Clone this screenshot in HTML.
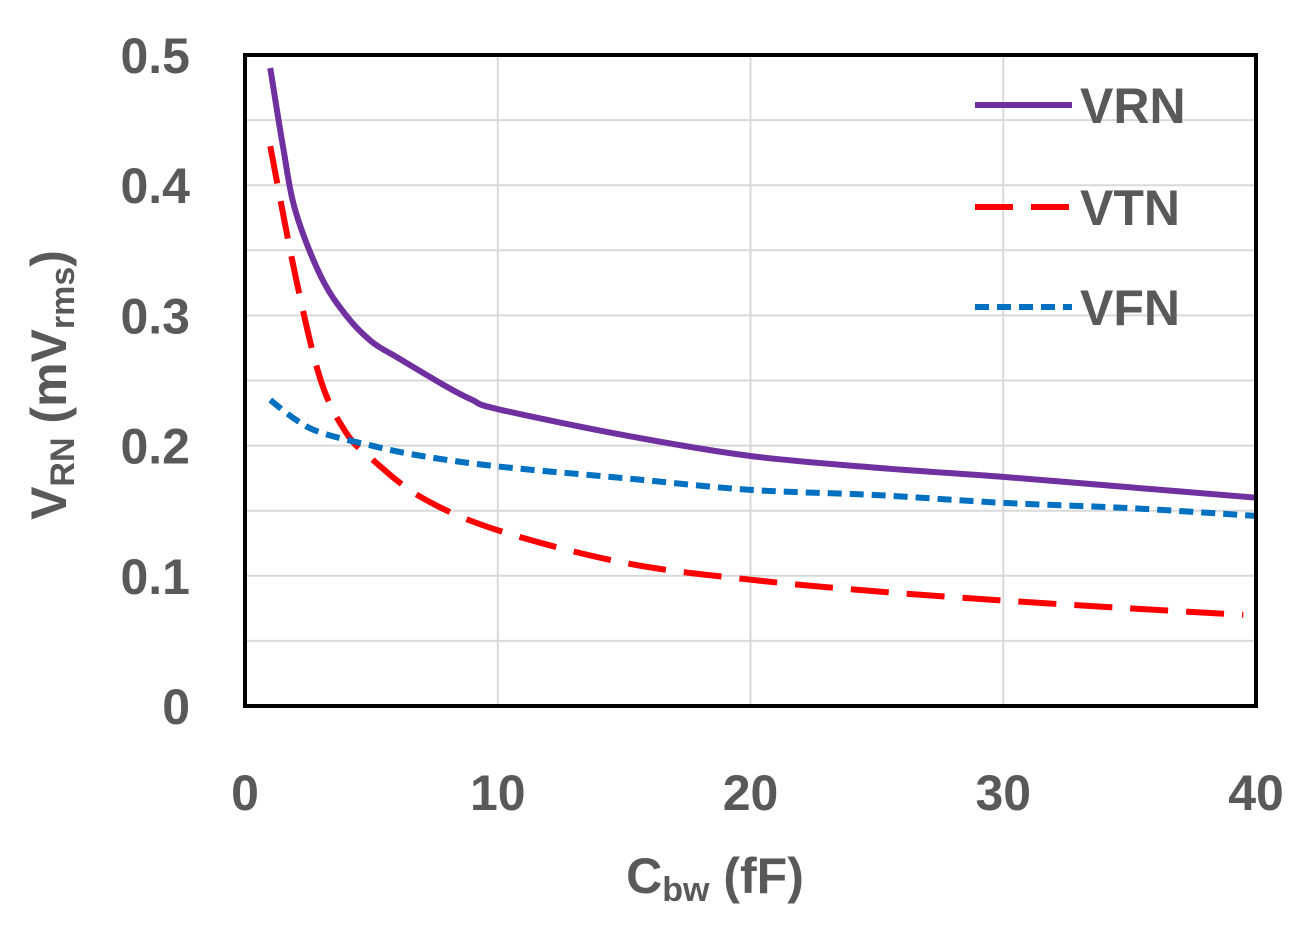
<!DOCTYPE html>
<html><head><meta charset="utf-8"><style>
body{margin:0;background:#fff;}
svg text{font-family:"Liberation Sans",sans-serif;font-weight:bold;fill:#595959;}
</style></head><body>
<svg id="chart" width="1311" height="926">
<g id="grid"></g>
<g id="series"></g>
<rect x="245" y="55" width="1011" height="651" fill="none" stroke="#000" stroke-width="4"/>
<g id="ticks"></g>
<text x="66" y="385" font-size="50" text-anchor="middle" transform="rotate(-90 66 385)">V<tspan font-size="34" dy="8">RN</tspan><tspan dy="-8"> (mV</tspan><tspan font-size="34" dy="8">rms</tspan><tspan dy="-8">)</tspan></text>
<text x="715" y="893" font-size="50" text-anchor="middle">C<tspan font-size="34" dy="8">bw</tspan><tspan dy="-8"> (fF)</tspan></text>
<g>
<line x1="975" y1="105" x2="1072" y2="105" stroke="#7030A0" stroke-width="6"/>
<text x="1080" y="123" font-size="50">VRN</text>
<line x1="975" y1="207" x2="1072" y2="207" stroke="#f00" stroke-width="6" stroke-dasharray="38,18"/>
<text x="1080" y="225" font-size="50">VTN</text>
<line x1="975" y1="307" x2="1072" y2="307" stroke="#0070C0" stroke-width="6" stroke-dasharray="14,8"/>
<text x="1080" y="325" font-size="50">VFN</text>
</g>
</svg>
<script>
const xTicks=[0,10,20,30,40];
const yTicks=[0,0.1,0.2,0.3,0.4,0.5];
const gridY=[0.05,0.1,0.15,0.2,0.25,0.3,0.35,0.4,0.45];
const vrnX=[1,1.5,2,3,4,5,6,8,9,10,15,20,25,30,35,40];
const vrnY=[0.49,0.43,0.38,0.33,0.30,0.28,0.268,0.245,0.235,0.228,0.208,0.192,0.183,0.176,0.168,0.16];
const vtnX=[1,2,3,4,5,7,10,15,20,25,30,35,39.5];
const vtnY=[0.43,0.33,0.25,0.21,0.19,0.16,0.135,0.11,0.097,0.088,0.081,0.075,0.07];
const vfnX=[1,2,3,5,7,10,15,20,25,30,35,40];
const vfnY=[0.235,0.22,0.21,0.2,0.192,0.184,0.175,0.166,0.162,0.156,0.152,0.146];
const NS="http://www.w3.org/2000/svg";
const sx=v=>245+v/40*1011, sy=v=>706-v/0.5*651;
const grid=document.getElementById('grid'),ticks=document.getElementById('ticks'),ser=document.getElementById('series');
function mk(t,a,p){const e=document.createElementNS(NS,t);for(const k in a)e.setAttribute(k,a[k]);p.appendChild(e);return e;}
gridY.forEach(v=>{const l=mk('line',{x1:245,x2:1256,y1:sy(v),y2:sy(v),stroke:'#d9d9d9','stroke-width':2},grid);

});
xTicks.slice(1,-1).forEach(v=>{const l=mk('line',{x1:sx(v),x2:sx(v),y1:55,y2:706,stroke:'#d9d9d9','stroke-width':2},grid);

});
xTicks.forEach(v=>{const t=mk('text',{x:sx(v),y:810,'font-size':50,'text-anchor':'middle'},ticks);t.textContent=v;

});
yTicks.forEach(v=>{const t=mk('text',{x:190,y:sy(v)+18,'font-size':50,'text-anchor':'end'},ticks);t.textContent=v;

});
function smooth(P){let d='M'+P[0][0]+','+P[0][1];
for(let i=0;i<P.length-1;i++){const p0=P[Math.max(i-1,0)],p1=P[i],p2=P[i+1],p3=P[Math.min(i+2,P.length-1)];
const c1=[p1[0]+(p2[0]-p0[0])/6,p1[1]+(p2[1]-p0[1])/6],c2=[p2[0]-(p3[0]-p1[0])/6,p2[1]-(p3[1]-p1[1])/6];
d+=' C'+c1+' '+c2+' '+p2;}return d;}
function line(xs,ys,col,dash,name){const P=xs.map((x,i)=>[sx(x),sy(ys[i])]);
const p=mk('path',{d:smooth(P),fill:'none',stroke:col,'stroke-width':6,'stroke-dasharray':dash,'stroke-linejoin':'round'},ser);

}
line(vrnX,vrnY,'#7030A0','none','vrn-series');
line(vtnX,vtnY,'#f00','38,18','vtn-series');
line(vfnX,vfnY,'#0070C0','14,8','vfn-series');
</script>
</body></html>
